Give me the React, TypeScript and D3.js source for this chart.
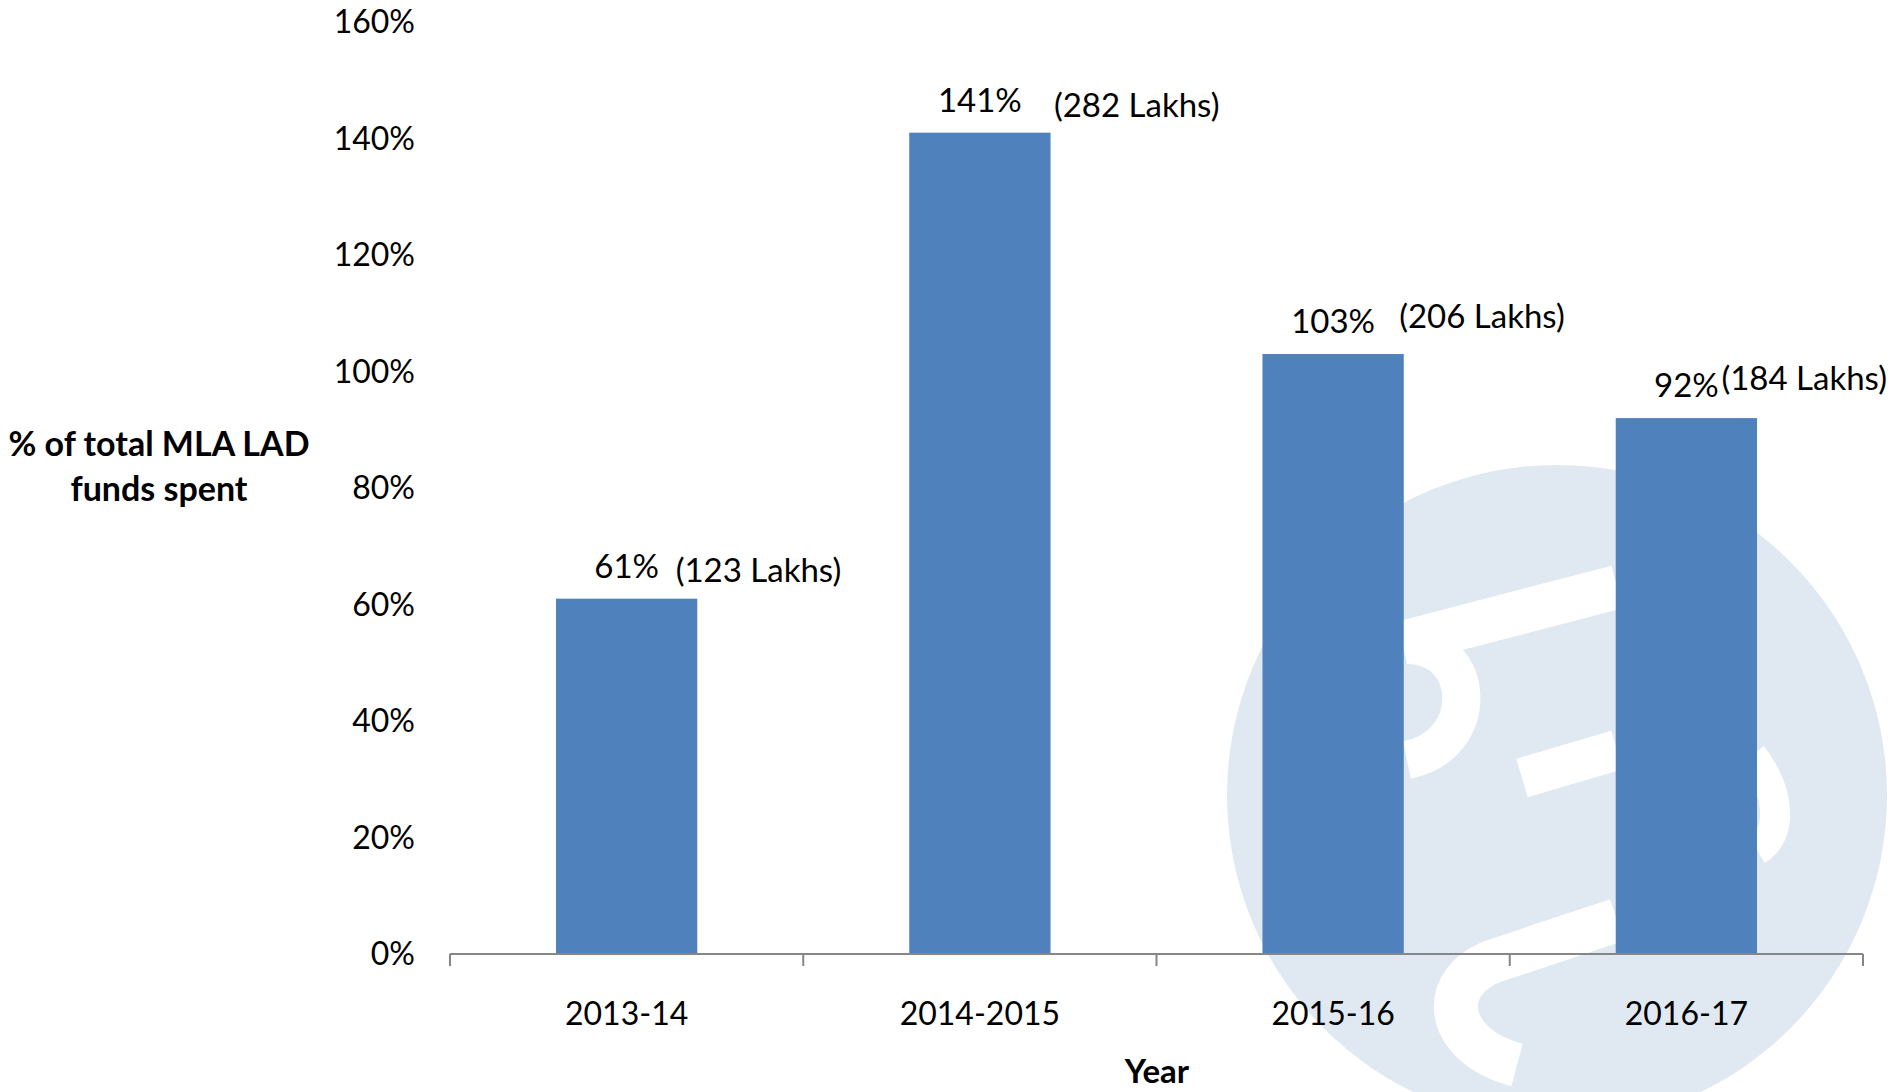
import React from 'react';
import { scaleBand, scaleLinear, range } from 'd3';

const years = ['2013-14', '2014-2015', '2015-16', '2016-17'];
const pctSpent = [61, 141, 103, 92];
const lakhs = [123, 282, 206, 184];
const yTicks = [0, 20, 40, 60, 80, 100, 120, 140, 160];

// hand placed lakh labels, like the original text boxes
const lakhDx = [49, 74, 66, 35];
const lakhDy = [4, 5, -5, -7];

const width = 1893;
const height = 1092;
const axisLeft = 450;
const axisRight = 1863;
const axisY = 954;
const topY = 22;
const font = 'Lato, "Open Sans", sans-serif';

export default function App() {
  const x = scaleBand<string>()
    .domain(years)
    .range([axisLeft, axisRight])
    .paddingInner(0.6)
    .paddingOuter(0.3);
  const y = scaleLinear().domain([0, 160]).range([axisY, topY]);
  const step = x.step();
  const boundaries = range(years.length + 1).map((i) => axisLeft + i * step);

  // watermark circle
  const cx = 1557;
  const cy = 795;
  const r = 330;

  return (
    <svg
      width={width}
      height={height}
      style={{ position: 'absolute', left: 0, top: 0, background: '#fff' }}
      fontFamily={font}
    >
      <g>
        <circle cx={cx} cy={cy} r={r} fill="#e0e9f2" />
        <g fill="none" stroke="#fff" strokeLinecap="butt">
          <path d={`M${cx - 155},${cy - 152} L${cx + 60},${cy - 208}`} strokeWidth={44} />
          <path
            d={`M${cx - 150},${cy - 150} C${cx - 80},${cy - 150} ${cx - 75},${cy - 50} ${cx - 150},${cy - 35}`}
            strokeWidth={38}
          />
          <path d={`M${cx - 35},${cy - 17} L${cx + 60},${cy - 45}`} strokeWidth={40} />
          <path
            d={`M${cx + 195},${cy - 40} C${cx + 225},${cy} ${cx + 225},${cy + 40} ${cx + 200},${cy + 55}`}
            strokeWidth={30}
          />
          <path
            d={`M${cx + 60},${cy + 125} L${cx - 60},${cy + 165} C${cx - 120},${cy + 185} ${cx - 115},${cy + 250} ${cx - 40},${cy + 270}`}
            strokeWidth={44}
          />
        </g>
      </g>

      {years.map((yr, i) => (
        <rect
          key={yr}
          x={x(yr)}
          y={y(pctSpent[i])}
          width={x.bandwidth()}
          height={axisY - y(pctSpent[i])}
          fill="#4f81bd"
        />
      ))}

      <line x1={axisLeft} x2={axisRight} y1={axisY} y2={axisY} stroke="#868686" strokeWidth={2} />
      {boundaries.map((bx, i) => (
        <line key={i} x1={bx} x2={bx} y1={axisY} y2={axisY + 12} stroke="#868686" strokeWidth={2} />
      ))}

      {yTicks.map((t) => (
        <text key={t} x={415} y={y(t)} dy="0.35em" textAnchor="end" fontSize={32} fill="#000">
          {t}%
        </text>
      ))}

      {years.map((yr) => (
        <text
          key={yr}
          x={(x(yr) ?? 0) + x.bandwidth() / 2}
          y={1025}
          textAnchor="middle"
          fontSize={32}
          fill="#000"
        >
          {yr}
        </text>
      ))}

      {years.map((yr, i) => {
        const c = (x(yr) ?? 0) + x.bandwidth() / 2;
        const base = y(pctSpent[i]) - 21;
        return (
          <g key={yr}>
            <text x={c} y={base} textAnchor="middle" fontSize={33} fill="#000">
              {pctSpent[i]}%
            </text>
            <text x={c + lakhDx[i]} y={base + lakhDy[i]} fontSize={33} fill="#000">
              ({lakhs[i]} Lakhs)
            </text>
          </g>
        );
      })}

      <text x={159} y={456} textAnchor="middle" fontSize={34} fontWeight="bold" fill="#000">
        % of total MLA LAD
      </text>
      <text x={159} y={501} textAnchor="middle" fontSize={34} fontWeight="bold" fill="#000">
        funds spent
      </text>
      <text x={1157} y={1083} textAnchor="middle" fontSize={33} fontWeight="bold" fill="#000">
        Year
      </text>
    </svg>
  );
}
